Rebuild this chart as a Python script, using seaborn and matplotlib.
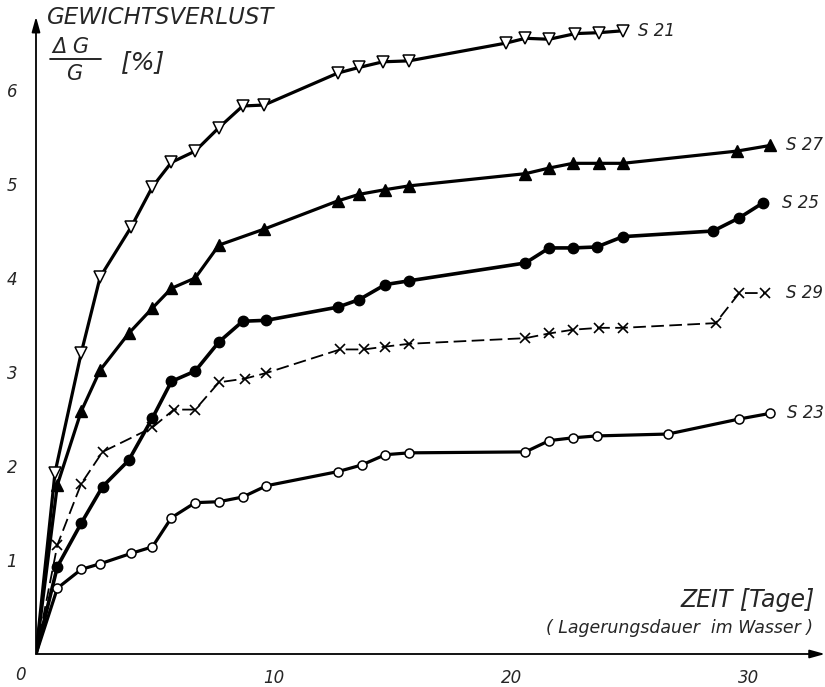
import matplotlib
matplotlib.use("Agg")
import matplotlib.pyplot as plt
import seaborn as sns
import pandas as pd

# ---- data ----
S21_x = [0, 0.8, 1.9, 2.7, 4.0, 4.9, 5.7, 6.7, 7.7, 8.7, 9.6, 12.7, 13.6, 14.6, 15.7, 19.8, 20.6, 21.6, 22.7, 23.7, 24.7]
S21_y = [0, 1.93, 3.2, 4.01, 4.54, 4.97, 5.23, 5.35, 5.6, 5.83, 5.84, 6.18, 6.24, 6.3, 6.31, 6.5, 6.55, 6.54, 6.6, 6.61, 6.63]

S27_x = [0, 0.9, 1.9, 2.7, 3.9, 4.9, 5.7, 6.7, 7.7, 9.6, 12.7, 13.6, 14.7, 15.7, 20.6, 21.6, 22.6, 23.7, 24.7, 29.5, 30.9]
S27_y = [0, 1.8, 2.58, 3.02, 3.41, 3.68, 3.89, 4.0, 4.35, 4.52, 4.82, 4.89, 4.94, 4.98, 5.11, 5.17, 5.22, 5.22, 5.22, 5.35, 5.41]

S25_x = [0, 0.9, 1.9, 2.8, 3.9, 4.9, 5.7, 6.7, 7.7, 8.7, 9.7, 12.7, 13.6, 14.7, 15.7, 20.6, 21.6, 22.6, 23.6, 24.7, 28.5, 29.6, 30.6]
S25_y = [0, 0.93, 1.39, 1.78, 2.06, 2.51, 2.9, 3.01, 3.32, 3.54, 3.55, 3.69, 3.77, 3.93, 3.97, 4.16, 4.32, 4.32, 4.33, 4.44, 4.5, 4.64, 4.8]

S29_x = [0, 0.9, 1.9, 2.8, 4.9, 5.8, 6.7, 7.7, 8.8, 9.7, 12.8, 13.8, 14.7, 15.7, 20.6, 21.6, 22.6, 23.7, 24.7, 28.6, 29.6, 30.7]
S29_y = [0, 1.16, 1.81, 2.15, 2.41, 2.6, 2.6, 2.89, 2.93, 2.99, 3.24, 3.24, 3.27, 3.3, 3.36, 3.41, 3.45, 3.47, 3.47, 3.52, 3.84, 3.84]

S23_x = [0, 0.9, 1.9, 2.7, 4.0, 4.9, 5.7, 6.7, 7.7, 8.7, 9.7, 12.7, 13.7, 14.7, 15.7, 20.6, 21.6, 22.6, 23.6, 26.6, 29.6, 30.9]
S23_y = [0, 0.70, 0.9, 0.96, 1.07, 1.14, 1.45, 1.61, 1.62, 1.67, 1.79, 1.94, 2.01, 2.12, 2.14, 2.15, 2.27, 2.3, 2.32, 2.34, 2.5, 2.56]

series_names = ["S 21", "S 27", "S 25", "S 29", "S 23"]
x_major = [10, 20, 30]
x_minor = [5, 15, 25]
y_ticks = [1, 2, 3, 4, 5, 6]

# ---- style ----
sns.set_style("white")
plt.rcParams['font.family'] = ['DejaVu Sans']
plt.rcParams['font.style'] = 'italic'

fig = plt.figure(figsize=(8.25, 6.87), dpi=100)
W, H = 825, 687
x0, y0 = 36, 654   # pixel of data origin
ax = fig.add_axes([x0 / W, (H - y0) / H, (W - x0) / W, (y0 - 5) / H])
XMAX = (W - x0) / 23.76
YMAX = (y0 - 5) / 94.0
ax.set_xlim(0, XMAX)
ax.set_ylim(0, YMAX)
ax.patch.set_alpha(0)
for s in ax.spines.values():
    s.set_visible(False)

data = {
    "S 21": (S21_x, S21_y),
    "S 27": (S27_x, S27_y),
    "S 25": (S25_x, S25_y),
    "S 29": (S29_x, S29_y),
    "S 23": (S23_x, S23_y),
}
styles = {
    "S 21": dict(marker="v", markersize=8, markerfacecolor="white", markeredgecolor="black", markeredgewidth=1.1, linewidth=2.3),
    "S 27": dict(marker="^", markersize=8, markerfacecolor="black", markeredgecolor="black", markeredgewidth=1.0, linewidth=2.3),
    "S 25": dict(marker="o", markersize=7.5, markerfacecolor="black", markeredgecolor="black", markeredgewidth=1.0, linewidth=2.6),
    "S 29": dict(marker="x", markersize=6.5, markerfacecolor="black", markeredgecolor="black", markeredgewidth=1.2, linewidth=1.3),
    "S 23": dict(marker="o", markersize=6.5, markerfacecolor="white", markeredgecolor="black", markeredgewidth=1.1, linewidth=2.3),
}
label_off = {"S 21": 0.65, "S 27": 0.65, "S 25": 0.8, "S 29": 0.85, "S 23": 0.72}

for name in series_names:
    xs, ys = data[name]
    df = pd.DataFrame({"x": xs, "y": ys})
    sns.lineplot(data=df, x="x", y="y", ax=ax, color="black", sort=False,
                 estimator=None, zorder=3, **styles[name])
    if name == "S 29":
        ax.lines[-1].set_dashes((7, 3))
    ax.lines[-1].set_markevery(list(range(1, len(xs))))
    ax.text(xs[-1] + label_off[name], ys[-1], name, fontsize=12, style="italic",
            ha="left", va="center", color="#222222")

# axes arrows
ax.annotate("", xy=(XMAX, 0), xytext=(0, 0), xycoords="data",
            arrowprops=dict(arrowstyle="-|>,head_length=0.9,head_width=0.25", color="black", lw=1.3,
                            shrinkA=0, shrinkB=0), annotation_clip=False)
ax.annotate("", xy=(0, 6.78), xytext=(0, 0), xycoords="data",
            arrowprops=dict(arrowstyle="-|>,head_length=0.9,head_width=0.25", color="black", lw=1.3,
                            shrinkA=0, shrinkB=0), annotation_clip=False)

ax.set_xticks(x_major)
ax.set_xticks(x_minor, minor=True)
ax.set_yticks(y_ticks)
ax.set_xticklabels([str(v) for v in x_major], fontsize=12, style="italic")
ax.set_yticklabels([str(v) for v in y_ticks], fontsize=12, style="italic")
ax.tick_params(axis="both", which="both", direction="inout", length=9, width=1.1, color="black")
ax.tick_params(axis="x", which="minor", length=7)
ax.tick_params(axis="x", pad=6)
ax.tick_params(axis="y", pad=9)
ax.set_xlabel("")
ax.set_ylabel("")

# origin label
fig.text(20 / W, 1 - 675 / H, "0", fontsize=12, style="italic", ha="center", va="center")

# y-axis title
fig.text(47 / W, 1 - 18 / H, "GEWICHTSVERLUST", fontsize=16.5, style="italic", ha="left", va="center")
fig.text(71 / W, 1 - 47 / H, "\u0394 G", fontsize=15, style="italic", ha="center", va="center")
fig.add_artist(plt.Line2D([50 / W, 101 / W], [1 - 59 / H, 1 - 59 / H], color="black", lw=1.2))
fig.text(74 / W, 1 - 74 / H, "G", fontsize=15, style="italic", ha="center", va="center")
fig.text(143 / W, 1 - 62 / H, "[%]", fontsize=18, style="italic", ha="center", va="center")

# x-axis title
fig.text(815 / W, 1 - 600 / H, "ZEIT [Tage]", fontsize=17, style="italic", ha="right", va="center")
fig.text(813 / W, 1 - 628 / H, "( Lagerungsdauer  im Wasser )", fontsize=12.5, style="italic", ha="right", va="center")

fig.savefig("out.png", dpi=100)
